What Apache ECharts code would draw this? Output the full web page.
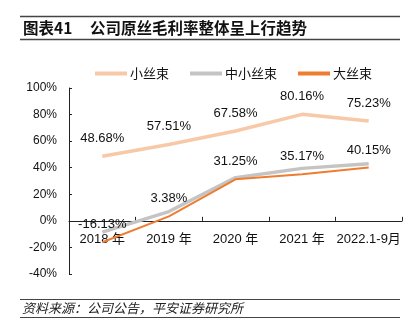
<!DOCTYPE html>
<html>
<head>
<meta charset="utf-8">
<script src="https://cdn.jsdelivr.net/npm/echarts@6/dist/echarts.min.js"></script>
<style>
  html, body { margin: 0; padding: 0; background: #fff; }
  #chart { width: 417px; height: 333px; }
</style>
</head>
<body>
<div id="chart"></div>
<script>
// Raw-fibre gross margin by tow size (%)
const categories = ['2018 年', '2019 年', '2020 年', '2021 年', '2022.1-9月'];
const smallTow = [48.68, 57.51, 67.58, 80.16, 75.23];
const midSmallTow = [-8.5, 7.0, 32.5, 39.5, 43.0];
const largeTow = [-16.13, 3.38, 31.25, 35.17, 40.15];
const yTicks = { min: -40, max: 100, interval: 20 };

const FONT = 'Liberation Sans, Arial, "Noto Sans CJK SC", sans-serif';
const CJK = '"Noto Sans CJK SC", "Liberation Sans", sans-serif';

const GRID_TOP = 88, GRID_BOTTOM = 59, H = 333;
const plotH = H - GRID_TOP - GRID_BOTTOM;
// shift the category axis up so it sits on the 0% line
const zeroShift = plotH * (0 - yTicks.min) / (yTicks.max - yTicks.min);

const chart = echarts.init(document.getElementById('chart'), null, { renderer: 'canvas' });

const labelCfg = {
  show: true,
  position: 'top',
  distance: 11,
  fontSize: 13,
  fontFamily: FONT,
  color: '#111',
  formatter: p => Number(p.value).toFixed(2) + '%'
};

chart.setOption({
  animation: false,
  backgroundColor: '#fff',
  textStyle: { fontFamily: FONT },
  graphic: [
    { type: 'line', shape: { x1: 20, y1: 16.5, x2: 400, y2: 16.5 }, style: { stroke: '#444', lineWidth: 1.5 } },
    { type: 'text', left: 23, top: 20, style: { text: '图表41', font: 'bold 15.5px ' + CJK, fill: '#111' } },
    { type: 'text', left: 90, top: 20, style: { text: '公司原丝毛利率整体呈上行趋势', font: 'bold 15.5px ' + CJK, fill: '#111' } },
    { type: 'line', shape: { x1: 20, y1: 39.5, x2: 400, y2: 39.5 }, style: { stroke: '#444', lineWidth: 1.5 } },
    { type: 'line', shape: { x1: 20, y1: 299.5, x2: 400, y2: 299.5 }, style: { stroke: '#444', lineWidth: 1 } },
    { type: 'text', left: 22, top: 302, style: { text: '资料来源：公司公告，平安证券研究所', font: 'italic 13px ' + CJK, fill: '#222' } },
    { type: 'line', shape: { x1: 20, y1: 317.5, x2: 400, y2: 317.5 }, style: { stroke: '#444', lineWidth: 1 } }
  ],
  legend: {
    left: 90,
    top: 62,
    icon: 'rect',
    itemWidth: 32,
    itemHeight: 4,
    itemGap: 21,
    textStyle: { fontSize: 13, fontFamily: CJK, color: '#111', padding: [0, 0, 0, -2] },
    data: ['小丝束', '中小丝束', '大丝束']
  },
  grid: { left: 69, right: 15, top: GRID_TOP, bottom: GRID_BOTTOM, containLabel: false },
  xAxis: {
    type: 'category',
    data: categories,
    boundaryGap: true,
    offset: -zeroShift,
    axisLine: { onZero: false, lineStyle: { color: '#222', width: 1 } },
    axisTick: { show: true, inside: true, length: 4, lineStyle: { color: '#222' } },
    axisLabel: { interval: 0, margin: 12, fontSize: 13, fontFamily: FONT, color: '#111', hideOverlap: false },
    splitLine: { show: false }
  },
  yAxis: {
    type: 'value',
    min: yTicks.min,
    max: yTicks.max,
    interval: yTicks.interval,
    axisLine: { show: true, lineStyle: { color: '#222', width: 1 } },
    axisTick: { show: true, inside: true, length: 3, lineStyle: { color: '#222' } },
    axisLabel: { margin: 12, fontSize: 12, fontFamily: FONT, color: '#111', formatter: '{value}%' },
    splitLine: { show: false }
  },
  series: [
    {
      name: '小丝束', type: 'line', data: smallTow, symbol: 'circle', symbolSize: 0.1, showSymbol: true,
      itemStyle: { color: '#F8C9A8' },
      lineStyle: { color: '#F8C9A8', width: 3.5 },
      label: labelCfg
    },
    {
      name: '中小丝束', type: 'line', data: midSmallTow, symbol: 'none',
      itemStyle: { color: '#C4C4C4' },
      lineStyle: { color: '#C4C4C4', width: 3.5 }
    },
    {
      name: '大丝束', type: 'line', data: largeTow, symbol: 'circle', symbolSize: 0.1, showSymbol: true,
      itemStyle: { color: '#EE7D31' },
      lineStyle: { color: '#EE7D31', width: 2 },
      label: labelCfg
    }
  ]
});
</script>
</body>
</html>
